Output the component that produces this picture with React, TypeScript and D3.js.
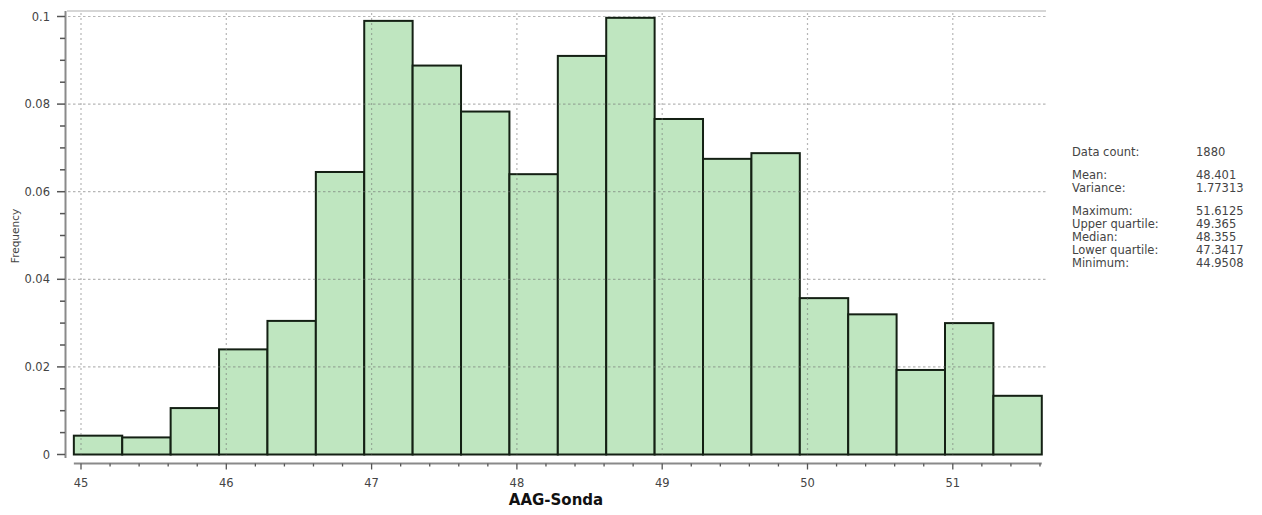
import React from "react";
import * as d3 from "d3";

// Histogram of AAG-Sonda readings: relative frequency per bin
const dataMin = 44.9508;
const dataMax = 51.6125;
const binCount = 20;
const frequencies = [
  0.0043, 0.0039, 0.0106, 0.024, 0.0305, 0.0645, 0.099, 0.0888, 0.0783, 0.064,
  0.091, 0.0997, 0.0766, 0.0675, 0.0688, 0.0357, 0.032, 0.0193, 0.03, 0.0134,
];

const xTicks = [45, 46, 47, 48, 49, 50, 51];
const yTicks = [0, 0.02, 0.04, 0.06, 0.08, 0.1];
const yTickLabels = ["0", "0.02", "0.04", "0.06", "0.08", "0.1"];

const statGroups = [
  [["Data count:", "1880"]],
  [
    ["Mean:", "48.401"],
    ["Variance:", "1.77313"],
  ],
  [
    ["Maximum:", "51.6125"],
    ["Upper quartile:", "49.365"],
    ["Median:", "48.355"],
    ["Lower quartile:", "47.3417"],
    ["Minimum:", "44.9508"],
  ],
];

const xLabel = "AAG-Sonda";
const yLabel = "Frequency";

const W = 1262;
const H = 515;
const FONT = "'DejaVu Sans', Verdana, sans-serif";

export default function App() {
  const x = d3.scaleLinear().domain([45, 51]).range([81, 952.8]);
  const y = d3.scaleLinear().domain([0, 0.1]).range([454.5, 16.5]);

  const step = (dataMax - dataMin) / binCount;
  const bins = frequencies.map((f, i) => ({
    x0: dataMin + i * step,
    x1: dataMin + (i + 1) * step,
    f,
  }));

  const plotLeft = 67;
  const plotRight = 1046;
  const plotTop = 11;
  const axisY = 463.5;

  const xMinor = d3.range(45, dataMax + 1e-9, 0.2).filter((v) => Math.abs(v - Math.round(v)) > 1e-6);
  const yMinor = d3.range(0, 0.1 + 1e-9, 0.005).filter((v) => Math.abs(v / 0.02 - Math.round(v / 0.02)) > 1e-6);

  const gridColor = "rgba(110,110,110,0.5)";

  // statistics rows, with a gap between groups
  const legendRows: { label: string; value: string; yPos: number }[] = [];
  let ly = 156;
  statGroups.forEach((g, gi) => {
    if (gi > 0) ly += 10;
    g.forEach(([label, value]) => {
      legendRows.push({ label, value, yPos: ly });
      ly += 13;
    });
  });

  return (
    <div style={{ position: "absolute", left: 0, top: 0 }}>
      <svg width={W} height={H} style={{ display: "block", background: "#fff" }}>
        {/* top frame */}
        <line x1={plotLeft} x2={plotRight} y1={plotTop} y2={plotTop} stroke="#c8c8c8" strokeWidth={1.5} />

        {/* bars */}
        {bins.map((b, i) => (
          <rect
            key={i}
            x={x(b.x0)}
            y={y(b.f)}
            width={x(b.x1) - x(b.x0)}
            height={y(0) - y(b.f)}
            fill="#bfe6c0"
            stroke="#142014"
            strokeWidth={2}
          />
        ))}

        {/* grid */}
        {xTicks.map((t) => (
          <line key={"gx" + t} x1={x(t)} x2={x(t)} y1={plotTop + 2} y2={y(0)} stroke={gridColor} strokeWidth={1.2} strokeDasharray="2,3" />
        ))}
        {yTicks.slice(1).map((t) => (
          <line key={"gy" + t} x1={plotLeft + 1} x2={plotRight} y1={y(t)} y2={y(t)} stroke={gridColor} strokeWidth={1.2} strokeDasharray="2.5,2.5" />
        ))}

        {/* y axis */}
        <line x1={65.5} x2={65.5} y1={plotTop} y2={458} stroke="#8a8a8a" strokeWidth={2} />
        {yTicks.map((t, i) => (
          <g key={"yt" + t}>
            <line x1={57} x2={65} y1={y(t)} y2={y(t)} stroke="#555" strokeWidth={1.5} />
            <text x={50} y={y(t)} dy="0.35em" textAnchor="end" fontFamily={FONT} fontSize={11.5} fill="#444">
              {yTickLabels[i]}
            </text>
          </g>
        ))}
        {yMinor.map((t) => (
          <line key={"ym" + t} x1={60} x2={65} y1={y(t)} y2={y(t)} stroke="#555" strokeWidth={1.5} />
        ))}

        {/* x axis */}
        <line x1={x(dataMin)} x2={x(dataMax)} y1={axisY} y2={axisY} stroke="#8a8a8a" strokeWidth={2} />
        {xTicks.map((t) => (
          <g key={"xt" + t}>
            <line x1={x(t)} x2={x(t)} y1={axisY} y2={axisY + 6} stroke="#555" strokeWidth={1.3} />
            <text x={x(t)} y={487} textAnchor="middle" fontFamily={FONT} fontSize={11.5} fill="#444">
              {t}
            </text>
          </g>
        ))}
        {xMinor.map((t) => (
          <line key={"xm" + t.toFixed(1)} x1={x(t)} x2={x(t)} y1={axisY} y2={axisY + 3} stroke="#555" strokeWidth={1.3} />
        ))}

        {/* axis titles */}
        <text x={556} y={505} textAnchor="middle" fontFamily={FONT} fontWeight="bold" fontSize={15} fill="#111">
          {xLabel}
        </text>
        <text
          transform={`translate(19,236) rotate(-90)`}
          textAnchor="middle"
          fontFamily={FONT}
          fontSize={10.5}
          fill="#444"
        >
          {yLabel}
        </text>

        {/* statistics panel */}
        {legendRows.map((r) => (
          <g key={r.label}>
            <text x={1072} y={r.yPos} fontFamily={FONT} fontSize={11.5} fill="#444">
              {r.label}
            </text>
            <text x={1196} y={r.yPos} fontFamily={FONT} fontSize={11.5} fill="#444">
              {r.value}
            </text>
          </g>
        ))}
      </svg>
    </div>
  );
}
